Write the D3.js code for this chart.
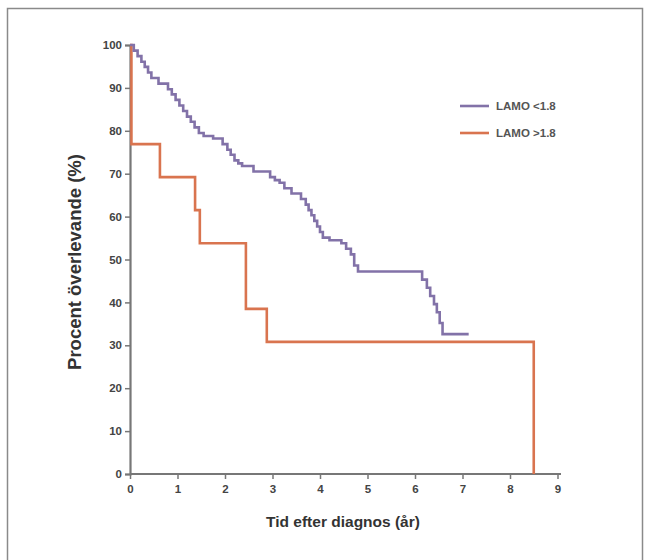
<!DOCTYPE html>
<html><head><meta charset="utf-8">
<script src="https://cdn.jsdelivr.net/npm/d3@7"></script>
<style>body{margin:0;background:#fff}svg{display:block}</style>
</head><body>
<svg id="c" width="650" height="560"></svg>
<script>
// Data
const seriesNames = ["LAMO <1.8", "LAMO >1.8"];
const blueTimes = [0, 0.08, 0.16, 0.24, 0.31, 0.38, 0.45, 0.6, 0.8, 0.88, 0.96, 1.04, 1.12, 1.2, 1.28, 1.36, 1.45, 1.55, 1.75, 1.95, 2.05, 2.12, 2.2, 2.28, 2.36, 2.6, 2.95, 3.05, 3.15, 3.25, 3.4, 3.6, 3.7, 3.76, 3.82, 3.88, 3.94, 4.0, 4.06, 4.2, 4.45, 4.55, 4.65, 4.72, 4.8, 6.15, 6.25, 6.32, 6.4, 6.46, 6.52, 6.58, 7.13];
const blueSurv  = [100, 98.7, 97.4, 96.1, 94.9, 93.6, 92.3, 91.0, 89.7, 88.5, 87.2, 85.9, 84.6, 83.3, 82.1, 80.8, 79.5, 78.8, 78.2, 76.9, 75.6, 74.4, 73.1, 72.4, 71.8, 70.5, 69.2, 68.5, 67.9, 66.6, 65.4, 64.1, 62.8, 61.5, 60.3, 59.0, 57.7, 56.4, 55.1, 54.5, 53.8, 52.5, 51.2, 48.6, 47.2, 45.3, 43.4, 41.5, 39.6, 37.7, 35.2, 32.6, 32.6];
const redTimes = [0, 0.03, 0.63, 1.37, 1.47, 2.44, 2.88, 8.5];
const redSurv  = [100, 76.9, 69.2, 61.5, 53.8, 38.5, 30.8, 0];
const xTicks = [0,1,2,3,4,5,6,7,8,9];
const yTicks = [0,10,20,30,40,50,60,70,80,90,100];
const xTitle = "Tid efter diagnos (år)";
const yTitle = "Procent överlevande (%)";
const colors = ["#8272a8", "#d9744f"];

const svg = d3.select("#c");
svg.append("rect").attr("x",7.5).attr("y",8.5).attr("width",635).attr("height",560)
  .attr("fill","none").attr("stroke","#8a8a8a").attr("stroke-width",1.5);

const x = d3.scaleLinear().domain([0,9]).range([130,557.5]);
const y = d3.scaleLinear().domain([0,100]).range([474,45]);

const font = "Liberation Sans, Arial, sans-serif";
const axisColor = "#777";
const gx = svg.append("g").attr("transform","translate(0,474)")
  .call(d3.axisBottom(x).tickValues(xTicks).tickSize(5).tickPadding(6).tickFormat(d3.format("d")));
gx.select(".domain").attr("stroke",axisColor).attr("stroke-width",2.2).attr("d","M130,0H561");
const gy = svg.append("g").attr("transform","translate(130,0)")
  .call(d3.axisLeft(y).tickValues(yTicks).tickSize(5).tickPadding(3).tickFormat(d3.format("d")));
gy.select(".domain").attr("stroke",axisColor).attr("stroke-width",2.2);
svg.selectAll(".tick line").attr("stroke",axisColor).attr("stroke-width",1.5);
svg.selectAll(".tick text").attr("fill","#444").attr("font-family",font)
  .attr("font-size",11.5).attr("font-weight","bold");

const line = d3.line().x(d=>x(d[0])).y(d=>y(d[1])).curve(d3.curveStepAfter);
const red = redTimes.map((t,i)=>[t,redSurv[i]]);
const blue = blueTimes.map((t,i)=>[t,blueSurv[i]]);
svg.append("path").datum(red).attr("d",line).attr("fill","none").attr("stroke",colors[1]).attr("stroke-width",2.6);
svg.append("path").datum(blue).attr("d",line).attr("fill","none").attr("stroke",colors[0]).attr("stroke-width",2.6);

// legend
const lg = svg.append("g");
seriesNames.forEach((n,i)=>{
  const yy = 106 + i*27;
  lg.append("line").attr("x1",460).attr("x2",489).attr("y1",yy).attr("y2",yy)
    .attr("stroke",colors[i]).attr("stroke-width",2.6);
  lg.append("text").attr("x",496).attr("y",yy+4).text(n)
    .attr("font-family",font).attr("font-size",11.5).attr("font-weight","bold").attr("fill","#555");
});

svg.append("text").attr("x",343).attr("y",527).attr("text-anchor","middle").text(xTitle)
  .attr("font-family",font).attr("font-size",15.5).attr("font-weight","bold").attr("fill","#333");
svg.append("text").attr("transform","translate(81,262) rotate(-90)").attr("text-anchor","middle").text(yTitle)
  .attr("font-family",font).attr("font-size",18.5).attr("font-weight","bold").attr("fill","#333");
</script>
</body></html>
